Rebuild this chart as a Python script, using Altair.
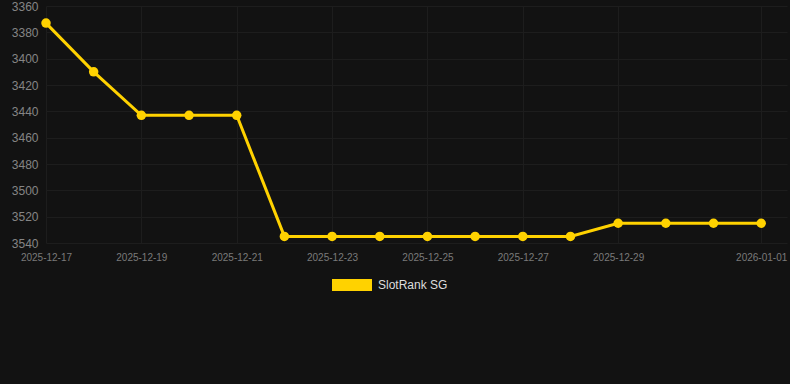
import altair as alt
import pandas as pd

dates = ["2025-12-17", "2025-12-18", "2025-12-19", "2025-12-20", "2025-12-21",
         "2025-12-22", "2025-12-23", "2025-12-24", "2025-12-25", "2025-12-26",
         "2025-12-27", "2025-12-28", "2025-12-29", "2025-12-30", "2025-12-31",
         "2026-01-01"]
ranks = [3373, 3410, 3443, 3443, 3443,
         3535, 3535, 3535, 3535, 3535,
         3535, 3535, 3525, 3525, 3525,
         3525]
series = "SlotRank SG"
tick_dates = ["2025-12-17", "2025-12-19", "2025-12-21", "2025-12-23",
              "2025-12-25", "2025-12-27", "2025-12-29", "2026-01-01"]
y_ticks = [3360, 3380, 3400, 3420, 3440, 3460, 3480, 3500, 3520, 3540]

df = pd.DataFrame({"date": [d + "T00:00:00" for d in dates], "rank": ranks, "series": series})

def dt(s, hours=0):
    y, m, d = (int(p) for p in s.split("-"))
    return alt.DateTime(year=y, month=m, date=d, hours=hours)

YELLOW = "#FFD200"
FONT = "Liberation Sans"
GRID = "#1d1d1d"

x = alt.X("date:T",
          scale=alt.Scale(domain=[dt("2025-12-17"), dt("2026-01-01", 13)]),
          axis=alt.Axis(values=[dt(s) for s in tick_dates], format="%Y-%m-%d",
                        title=None, labelAngle=0, labelFontSize=10,
                        labelColor="#7a7a7a", labelFont=FONT, labelPadding=9,
                        ticks=False, domain=False, grid=True,
                        gridColor=GRID, gridWidth=1, labelFlush=False))
y = alt.Y("rank:Q",
          scale=alt.Scale(domain=[3360, 3540], reverse=True, nice=False, zero=False),
          axis=alt.Axis(values=y_ticks, format="d", title=None, labelFontSize=12,
                        labelColor="#858585", labelFont=FONT, labelPadding=8,
                        ticks=False, domain=False, grid=True,
                        gridColor=GRID, gridWidth=1))
color = alt.Color("series:N",
                  scale=alt.Scale(domain=[series], range=[YELLOW]),
                  legend=alt.Legend(title=None, orient="none", legendX=286, legendY=259,
                                    symbolType="M-1,-0.3H1V0.3H-1Z", symbolSize=1600,
                                    symbolFillColor=YELLOW, symbolStrokeWidth=0,
                                    labelFontSize=12, labelColor="#dddddd",
                                    labelFont=FONT, labelOffset=6, padding=0))

base = alt.Chart(df)
line = base.mark_line(strokeWidth=3, color=YELLOW).encode(x=x, y=y, color=color)
pts = base.mark_circle(size=90, opacity=1, color=YELLOW).encode(
    x=x, y=y, color=alt.Color("series:N", scale=alt.Scale(domain=[series], range=[YELLOW]), legend=None))

chart = (line + pts).properties(
    width=741, height=237,
    background="#121212",
    padding={"left": 46, "top": 6, "right": 3, "bottom": 141},
    autosize=alt.AutoSizeParams(type="none"),
).configure_view(stroke=None)

chart.save("out.html", embed_options={"renderer": "svg", "actions": False})
